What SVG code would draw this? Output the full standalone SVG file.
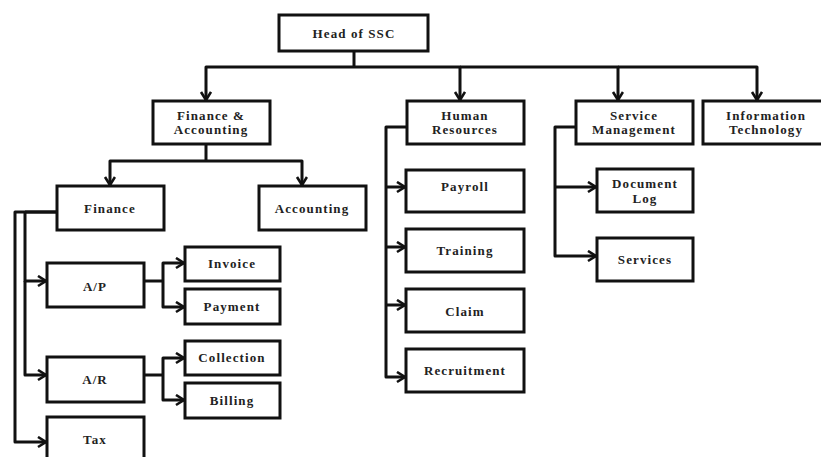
<svg xmlns="http://www.w3.org/2000/svg" width="821" height="457" viewBox="0 0 821 457">
<defs>
<marker id="arr" markerUnits="userSpaceOnUse" markerWidth="12" markerHeight="14" refX="9" refY="6" orient="auto">
<path d="M1,1 L9,6 L1,11" fill="none" stroke="#111" stroke-width="2.6"/>
</marker>
<style>
rect{fill:#fff;stroke:#111;stroke-width:3}
text{font-family:"Liberation Serif","Times New Roman",serif;font-weight:bold;font-size:13px;letter-spacing:1.1px;fill:#222;text-anchor:middle}
#connectors path{fill:none;stroke:#111;stroke-width:3;stroke-linejoin:round}
.a{marker-end:url(#arr)}
</style>
</defs>
<rect x="0" y="0" width="821" height="457" style="fill:#fff;stroke:none"/>
<g id="connectors">
<path d="M354,51 V67"/>
<path class="a" d="M354,67 H206 V100"/>
<path class="a" d="M354,67 H460 V100"/>
<path class="a" d="M460,67 H618 V100"/>
<path class="a" d="M618,67 H757 V100"/>
<path d="M206,144 V161"/>
<path class="a" d="M206,161 H110 V185"/>
<path class="a" d="M206,161 H302 V185"/>
<path d="M57,212 H25"/>
<path class="a" d="M57,212 H15 V442 H46"/>
<path class="a" d="M25,212 V281 H46"/>
<path class="a" d="M25,281 V375 H46"/>
<path d="M144,281 H163"/>
<path class="a" d="M163,281 V263 H184"/>
<path class="a" d="M163,281 V307 H184"/>
<path d="M144,375 H163"/>
<path class="a" d="M163,375 V358 H184"/>
<path class="a" d="M163,375 V400 H184"/>
<path class="a" d="M407,127 H386 V377 H405"/>
<path class="a" d="M386,187 H405"/>
<path class="a" d="M386,247 H405"/>
<path class="a" d="M386,305 H405"/>
<path class="a" d="M576,127 H555 V256 H596"/>
<path class="a" d="M555,187 H596"/>
</g>
<g id="head"><rect x="279" y="15" width="149" height="36"/><text x="354" y="38">Head of SSC</text></g>
<g id="fa"><rect x="153" y="101" width="117" height="43"/><text x="211" y="120">Finance &amp;</text><text x="211" y="134">Accounting</text></g>
<g id="hr"><rect x="407" y="101" width="117" height="43"/><text x="465" y="120">Human</text><text x="465" y="134">Resources</text></g>
<g id="sm"><rect x="576" y="101" width="117" height="43"/><text x="634" y="120">Service</text><text x="634" y="134">Management</text></g>
<g id="it"><rect x="703" y="101" width="127" height="43"/><text x="766" y="120">Information</text><text x="766" y="134">Technology</text></g>
<g id="finance"><rect x="57" y="186" width="107" height="44"/><text x="110" y="213">Finance</text></g>
<g id="accounting"><rect x="259" y="186" width="107" height="44"/><text x="312" y="213">Accounting</text></g>
<g id="ap"><rect x="47" y="263" width="97" height="44"/><text x="95" y="291">A/P</text></g>
<g id="ar"><rect x="47" y="357" width="97" height="45"/><text x="95" y="384">A/R</text></g>
<g id="tax"><rect x="47" y="417" width="97" height="50"/><text x="95" y="444">Tax</text></g>
<g id="invoice"><rect x="185" y="247" width="95" height="34"/><text x="232" y="268">Invoice</text></g>
<g id="payment"><rect x="185" y="289" width="95" height="35"/><text x="232" y="311">Payment</text></g>
<g id="collection"><rect x="185" y="341" width="95" height="34"/><text x="232" y="362">Collection</text></g>
<g id="billing"><rect x="185" y="383" width="95" height="35"/><text x="232" y="405">Billing</text></g>
<g id="payroll"><rect x="406" y="170" width="118" height="42"/><text x="465" y="191">Payroll</text></g>
<g id="training"><rect x="406" y="229" width="118" height="43"/><text x="465" y="255">Training</text></g>
<g id="claim"><rect x="406" y="289" width="118" height="43"/><text x="465" y="316">Claim</text></g>
<g id="recruitment"><rect x="406" y="349" width="118" height="43"/><text x="465" y="375">Recruitment</text></g>
<g id="doclog"><rect x="597" y="169" width="96" height="43"/><text x="645" y="188">Document</text><text x="645" y="203">Log</text></g>
<g id="services"><rect x="597" y="238" width="96" height="43"/><text x="645" y="264">Services</text></g>
</svg>
